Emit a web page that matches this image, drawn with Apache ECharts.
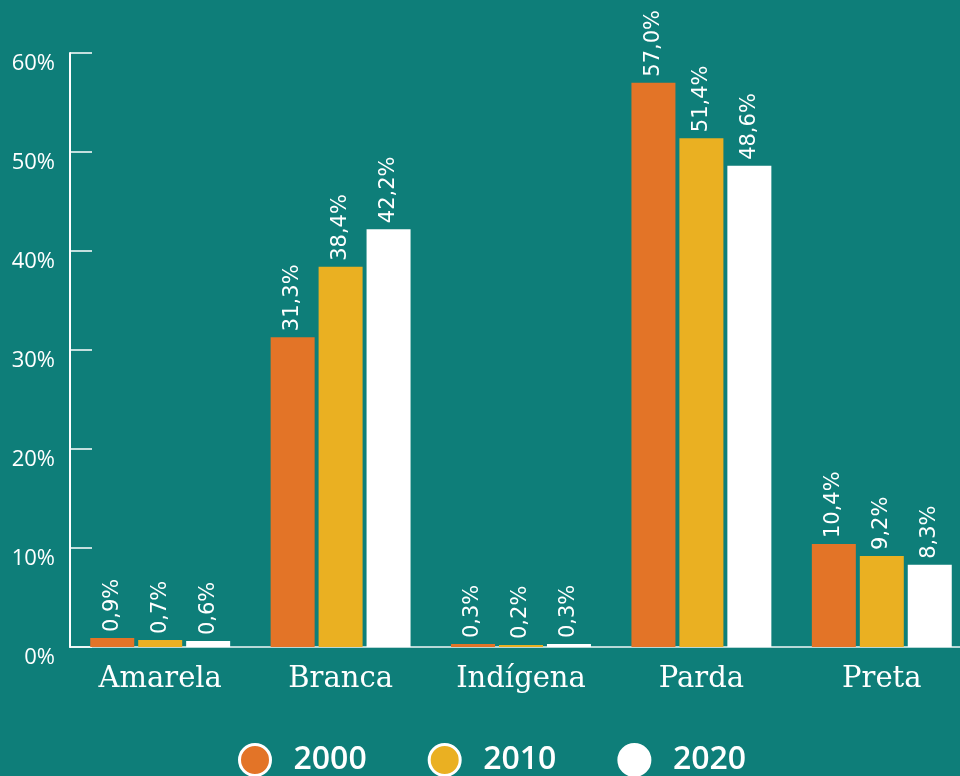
<!DOCTYPE html>
<html><head><meta charset="utf-8">
<script src="https://cdn.jsdelivr.net/npm/echarts@6/dist/echarts.min.js"></script>
<style>html,body{margin:0;padding:0;background:#0e7e79;}#c{width:960px;height:776px;}</style>
</head><body><div id="c"></div>
<script>
const categories = ['Amarela', 'Branca', 'Indígena', 'Parda', 'Preta'];
const years = ['2000', '2010', '2020'];
const v2000 = [0.9, 31.3, 0.3, 57.0, 10.4];
const v2010 = [0.7, 38.4, 0.2, 51.4, 9.2];
const v2020 = [0.6, 42.2, 0.3, 48.6, 8.3];
const colors = ['#e37427', '#eab022', '#ffffff'];

const chart = echarts.init(document.getElementById('c'));
const mk = (name, data, color) => ({
  name, type: 'bar', data, barWidth: 44, barGap: '9%',
  itemStyle: { color },
  label: {
    show: true, position: 'top', rotate: 90, align: 'left', verticalAlign: 'middle',
    distance: 6, color: '#ffffff', fontFamily: 'DejaVu Sans', fontSize: 21,
    formatter: p => p.value.toFixed(1).replace('.', ',') + '%'
  }
});
chart.setOption({
  backgroundColor: '#0e7e79',
  animation: false,
  grid: { left: 70, width: 902, top: 53, bottom: 129, outerBoundsMode: 'none', containLabel: false },
  legend: {
    top: 738, left: 233, itemWidth: 31, itemHeight: 31, itemGap: 61,
    icon: 'circle',
    itemStyle: { borderColor: '#ffffff', borderWidth: 3 },
    textStyle: { color: '#ffffff', fontFamily: 'Open Sans', fontSize: 32, fontWeight: 600, padding: [0, 0, 0, 18] },
    data: years
  },
  xAxis: {
    type: 'category', data: categories,
    axisLine: { lineStyle: { color: 'rgba(255,255,255,0.7)', width: 2 } },
    axisTick: { inside: true, length: 15, lineStyle: { color: 'rgba(255,255,255,0.7)', width: 2 } },
    axisLabel: { color: '#ffffff', fontFamily: 'DejaVu Serif', fontSize: 29, margin: 18 }
  },
  yAxis: {
    type: 'value', min: 0, max: 60, interval: 10,
    splitLine: { show: false },
    axisLine: { show: true, lineStyle: { color: '#ffffff', width: 2 } },
    axisTick: { show: true, inside: true, length: 22, lineStyle: { color: '#ffffff', width: 1.5 } },
    axisLabel: { color: '#ffffff', fontFamily: 'Open Sans', fontSize: 22, margin: 15, verticalAlign: 'top', formatter: '{value}%' }
  },
  series: [mk(years[0], v2000, colors[0]), mk(years[1], v2010, colors[1]), mk(years[2], v2020, colors[2])]
});
</script></body></html>
